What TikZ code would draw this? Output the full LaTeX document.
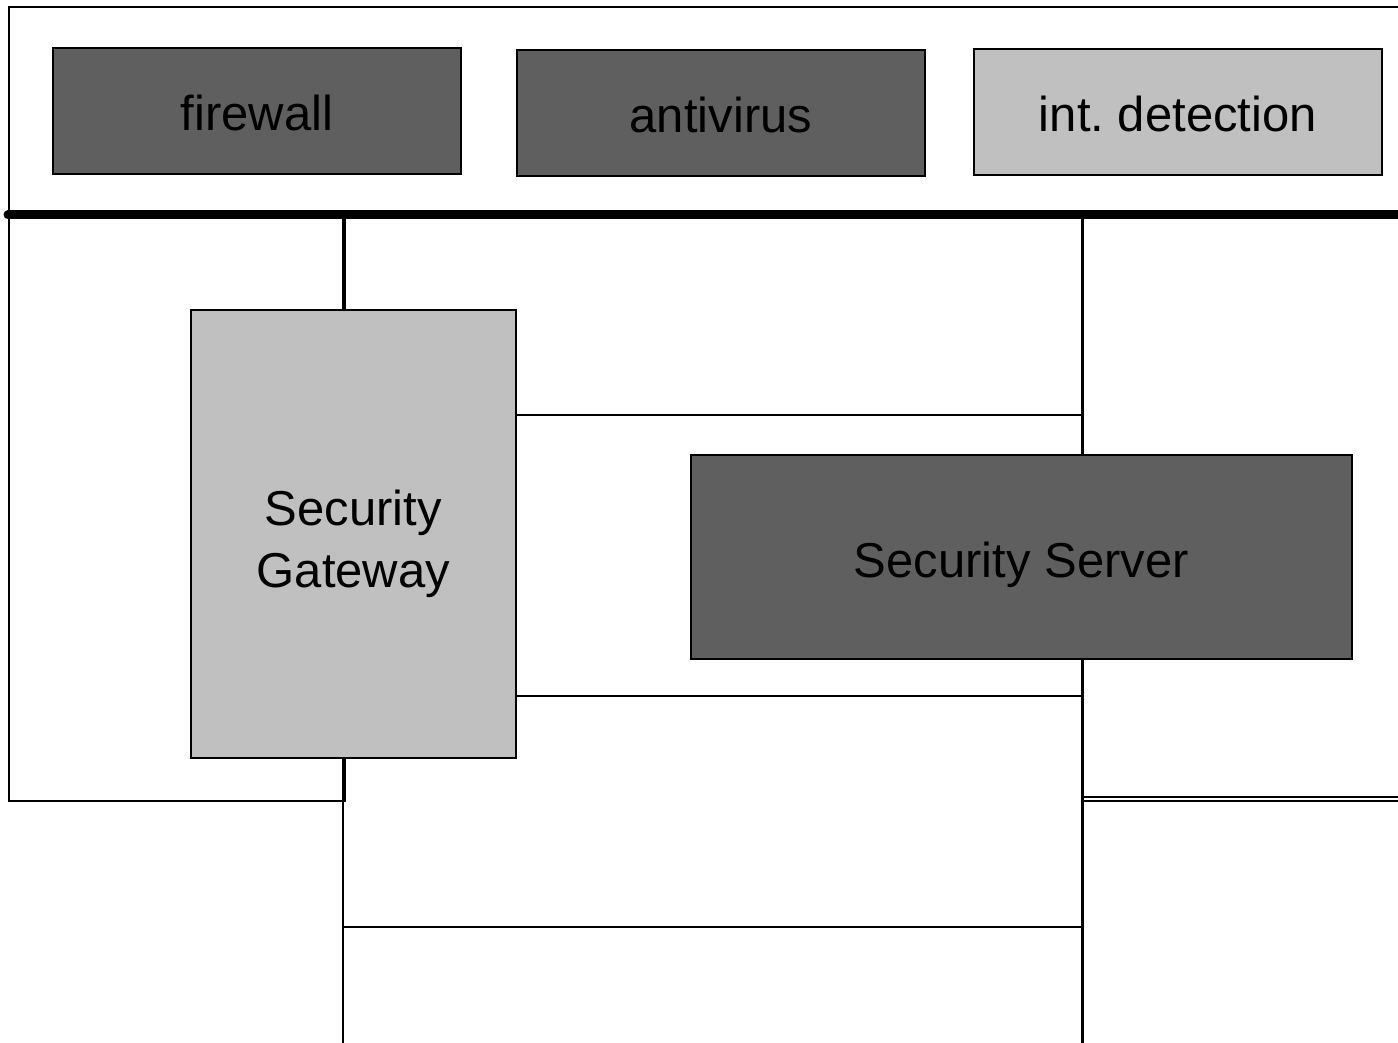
\documentclass[tikz,border=0pt]{standalone}
\usepackage{fontspec}
\setmainfont{Liberation Sans}
\frenchspacing
\definecolor{darkbox}{HTML}{5F5F5F}
\definecolor{lightbox}{HTML}{C0C0C0}
\begin{document}
\begin{tikzpicture}[x=1pt,y=-1pt,
  box/.style={draw=black,line width=1.8pt,minimum height=126pt,inner sep=0pt,
    anchor=north west},
  caption/.style={font=\fontsize{49}{62}\selectfont,align=center,inner sep=0pt},
  dark/.style={box,fill=darkbox},
  light/.style={box,fill=lightbox},
  wire/.style={line width=1.8pt},
  bus/.style={line width=9pt,line cap=round}]
\useasboundingbox (0,0) rectangle (1398,1043);

% outer frame around the top row and the gateway
\draw[wire] (1400,7) -- (9,7) -- (9,801) -- (345,801) -- (345,215);

% backbone bus
\coordinate (busL) at (8,215);
\coordinate (busR) at (1402,215);
\draw[bus] (busL) -- (busR);

% vertical risers
\coordinate (gwTop) at (343,215);
\coordinate (gwBot) at (343,1045);
\coordinate (srvTop) at (1082,215);
\coordinate (srvBot) at (1082,1045);
\draw[line width=3pt] (srvTop) -- (srvBot);
\draw[wire] (gwTop) -- (343,309);

% components on top
\node[dark,minimum width=408pt,
  label={[caption,name=fwtext,yshift=-2pt]center:firewall}] (fw) at (52,47) {};
\node[dark,minimum width=408pt,
  label={[caption,name=avtext,yshift=-2pt]center:antivirus}] (av) at (516,49) {};
\node[light,minimum width=408pt,
  label={[caption,name=idstext,yshift=-2pt]center:int.\ detection}] (ids) at (973,48) {};

% gateway and its links towards the server riser
\node[light,minimum width=325pt,minimum height=448pt,
  label={[caption,name=gwtext,yshift=-10pt]center:Security\\Gateway}] (gw) at (190,309) {};
\draw[wire] (gw.south -| gwTop) -- (gwBot);
\draw[wire] (gw.east |- 0,415) -- (1081,415);
\draw[wire] (gw.east |- 0,696) -- (1081,696);
\draw[wire] (343,927) -- (1081,927);

\node[dark,minimum width=661pt,minimum height=204pt,
  label={[caption,name=srvtext,yshift=-8pt]center:Security Server}] (srv) at (690,454) {};

% link leaving to the right
\draw[line width=1.4pt] (1083,797) -- (1402,797);
\draw[line width=1.4pt] (1083,801) -- (1402,801);
\end{tikzpicture}
\end{document}
